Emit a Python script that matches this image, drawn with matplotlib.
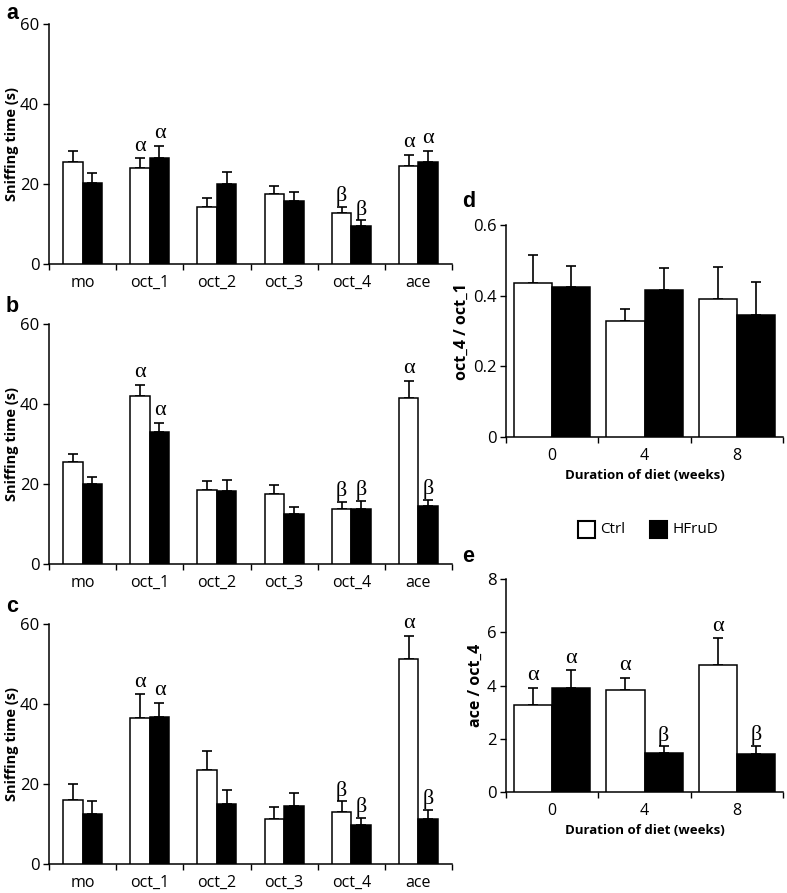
import matplotlib
matplotlib.use("Agg")
import matplotlib.pyplot as plt
import numpy as np
from matplotlib.patches import Rectangle

plt.rcParams['font.family'] = ['Open Sans', 'DejaVu Sans']

odors = ["mo", "oct_1", "oct_2", "oct_3", "oct_4", "ace"]

# Panel a
a_ctrl = [25.4, 23.9, 14.3, 17.4, 12.7, 24.6]
a_ctrl_err = [2.9, 2.5, 2.2, 2.2, 1.6, 2.65]
a_hfru = [20.2, 26.6, 19.9, 15.7, 9.6, 25.6]
a_hfru_err = [2.5, 3.0, 3.2, 2.2, 1.3, 2.65]
a_ctrl_sig = ["", "α", "", "", "β", "α"]
a_hfru_sig = ["", "α", "", "", "β", "α"]

# Panel b
b_ctrl = [25.4, 41.9, 18.6, 17.4, 13.7, 41.5]
b_ctrl_err = [2.1, 2.9, 2.1, 2.3, 1.8, 4.2]
b_hfru = [19.9, 33.1, 18.3, 12.5, 13.7, 14.4]
b_hfru_err = [1.9, 2.2, 2.7, 1.8, 2.1, 1.6]
b_ctrl_sig = ["", "α", "", "", "β", "α"]
b_hfru_sig = ["", "α", "", "", "β", "β"]

# Panel c
c_ctrl = [16.1, 36.4, 23.6, 11.3, 12.9, 51.2]
c_ctrl_err = [3.8, 6.0, 4.7, 3.0, 2.8, 5.8]
c_hfru = [12.6, 36.8, 15.0, 14.5, 9.75, 11.25]
c_hfru_err = [3.1, 3.4, 3.6, 3.3, 1.75, 2.25]
c_ctrl_sig = ["", "α", "", "", "β", "α"]
c_hfru_sig = ["", "α", "", "", "β", "β"]

weeks = ["0", "4", "8"]

# Panel d
d_ctrl = [0.436, 0.329, 0.390]
d_ctrl_err = [0.079, 0.034, 0.090]
d_hfru = [0.423, 0.415, 0.346]
d_hfru_err = [0.061, 0.063, 0.092]

# Panel e
e_ctrl = [3.27, 3.82, 4.77]
e_ctrl_err = [0.64, 0.47, 1.00]
e_hfru = [3.91, 1.49, 1.42]
e_hfru_err = [0.66, 0.23, 0.33]
e_ctrl_sig = ["α", "α", "α"]
e_hfru_sig = ["α", "β", "β"]

W, H = 787, 893
fig = plt.figure(figsize=(W / 100, H / 100), dpi=100)


def ax_at(x0, y_top, x1, y_bot):
    return fig.add_axes([x0 / W, 1 - y_bot / H, (x1 - x0) / W, (y_bot - y_top) / H])


greek_font = dict(family=['Liberation Serif', 'DejaVu Serif'], size=16)


def draw(ax, cats, ctrl, ctrl_err, hfru, hfru_err, width, ylim, yticks, yticklabels,
         ylabel, ctrl_sig=None, hfru_sig=None, xlabel=None, ylabel_size=11.5,
         xlabel_size=10, ylabel_pad=2):
    n = len(cats)
    x = np.arange(n)
    xc = x - width / 2
    xh = x + width / 2
    ax.bar(xc, ctrl, width, color='white', edgecolor='black', linewidth=1.1, zorder=3)
    ax.bar(xh, hfru, width, color='black', edgecolor='black', linewidth=1.1, zorder=3)
    ekw = dict(fmt='none', ecolor='black', elinewidth=1.2, capsize=3.5, capthick=1.2, zorder=2)
    ax.errorbar(xc, ctrl, yerr=[np.zeros(n), ctrl_err], **ekw)
    ax.errorbar(xh, hfru, yerr=[np.zeros(n), hfru_err], **ekw)
    for xs, vals, errs, sigs in ((xc, ctrl, ctrl_err, ctrl_sig), (xh, hfru, hfru_err, hfru_sig)):
        if not sigs:
            continue
        for xi, v, e, s in zip(xs, vals, errs, sigs):
            if s:
                off = 2.0 if s == "α" else 0.5
                ax.annotate(s, (xi, v + e), xytext=(0, off), textcoords='offset points',
                            ha='center', va='bottom', **greek_font)
    ax.set_xlim(-0.5, n - 0.5)
    ax.set_ylim(*ylim)
    ax.set_yticks(yticks)
    ax.set_yticklabels(yticklabels, fontsize=12)
    ax.set_xticks(x)
    ax.set_xticklabels(cats, fontsize=11.5)
    ax.tick_params(axis='x', which='major', length=0, pad=8)
    ax.set_xticks(np.arange(n + 1) - 0.5, minor=True)
    ax.tick_params(axis='x', which='minor', length=4, width=1, direction='out')
    ax.tick_params(axis='y', length=4, width=1, direction='out', pad=3)
    for s in ['top', 'right']:
        ax.spines[s].set_visible(False)
    for s in ['left', 'bottom']:
        ax.spines[s].set_linewidth(1.1)
    ax.set_ylabel(ylabel, fontsize=ylabel_size, fontweight='bold', labelpad=ylabel_pad)
    if xlabel:
        ax.set_xlabel(xlabel, fontsize=xlabel_size, fontweight='bold', labelpad=3)


yt = [0, 20, 40, 60]
ytl = ["0", "20", "40", "60"]
bw = 0.29

ax_a = ax_at(49, 24, 452, 264)
draw(ax_a, odors, a_ctrl, a_ctrl_err, a_hfru, a_hfru_err, bw, (0, 60), yt, ytl,
     "Sniffing time (s)", a_ctrl_sig, a_hfru_sig, ylabel_size=10.5, ylabel_pad=1)
ax_b = ax_at(49, 324, 452, 564)
draw(ax_b, odors, b_ctrl, b_ctrl_err, b_hfru, b_hfru_err, bw, (0, 60), yt, ytl,
     "Sniffing time (s)", b_ctrl_sig, b_hfru_sig, ylabel_size=10.5, ylabel_pad=1)
ax_c = ax_at(49, 624, 452, 864)
draw(ax_c, odors, c_ctrl, c_ctrl_err, c_hfru, c_hfru_err, bw, (0, 60), yt, ytl,
     "Sniffing time (s)", c_ctrl_sig, c_hfru_sig, ylabel_size=10.5, ylabel_pad=1)

dw = 0.415
ax_d = ax_at(506, 224.7, 783, 437.3)
draw(ax_d, weeks, d_ctrl, d_ctrl_err, d_hfru, d_hfru_err, dw, (0, 0.6),
     [0, 0.2, 0.4, 0.6], ["0", "0.2", "0.4", "0.6"], "oct_4 / oct_1",
     xlabel="Duration of diet (weeks)", ylabel_size=11.5, xlabel_size=9.5)
ax_e = ax_at(506, 579, 783, 792.3)
draw(ax_e, weeks, e_ctrl, e_ctrl_err, e_hfru, e_hfru_err, dw, (0, 8),
     [0, 2, 4, 6, 8], ["0", "2", "4", "6", "8"], "ace / oct_4",
     e_ctrl_sig, e_hfru_sig, xlabel="Duration of diet (weeks)", ylabel_size=11.5,
     xlabel_size=9.5)

# panel letters
for lab, (px, py) in zip("abcde", [(6, 19), (6, 312), (6, 612), (462, 207), (462, 562)]):
    fig.text(px / W, 1 - py / H, lab, fontsize=15.5, fontweight='bold',
             family=['Liberation Sans', 'DejaVu Sans'], ha='left', va='baseline')

# legend
fig.patches.append(Rectangle((578 / W, 1 - 538 / H), 17 / W, 17 / H, transform=fig.transFigure,
                             facecolor='white', edgecolor='black', linewidth=1.5))
fig.patches.append(Rectangle((650 / W, 1 - 538 / H), 17 / W, 17 / H, transform=fig.transFigure,
                             facecolor='black', edgecolor='black', linewidth=1.5))
fig.text(600 / W, 1 - 529.5 / H, "Ctrl", fontsize=11, va='center', ha='left')
fig.text(672 / W, 1 - 529.5 / H, "HFruD", fontsize=11, va='center', ha='left')

fig.savefig("out.png", dpi=100)
